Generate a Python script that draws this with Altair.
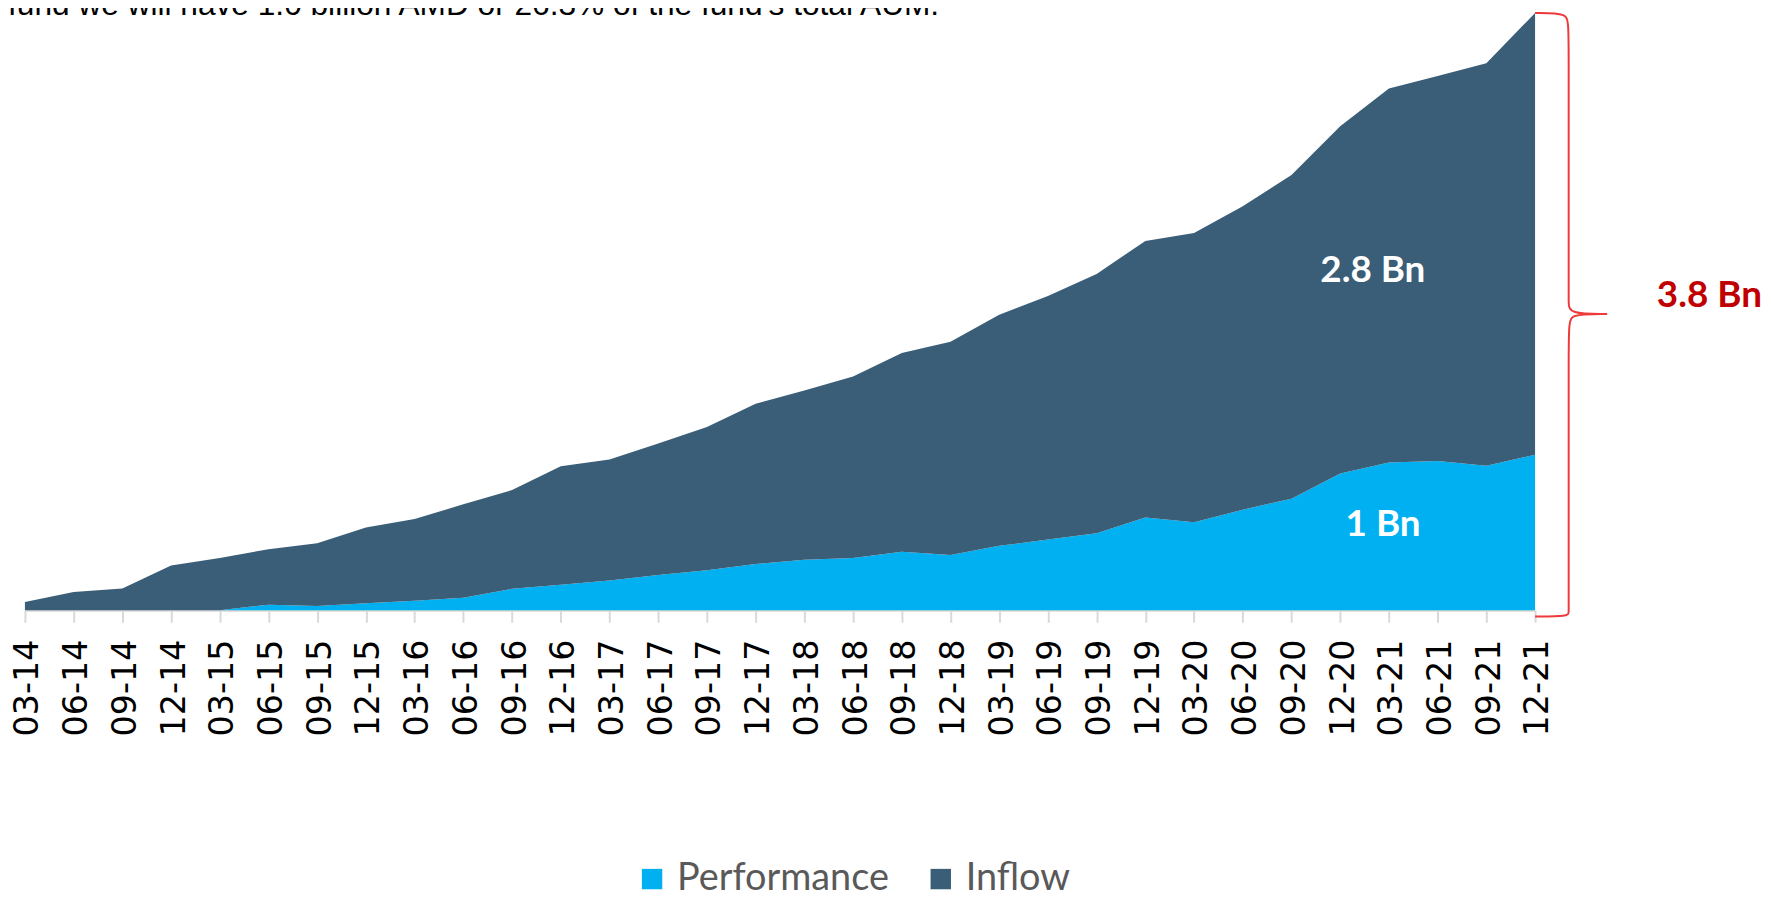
import altair as alt
import pandas as pd

quarters = ["03-14", "06-14", "09-14", "12-14", "03-15", "06-15", "09-15", "12-15",
            "03-16", "06-16", "09-16", "12-16", "03-17", "06-17", "09-17", "12-17",
            "03-18", "06-18", "09-18", "12-18", "03-19", "06-19", "09-19", "12-19",
            "03-20", "06-20", "09-20", "12-20", "03-21", "06-21", "09-21", "12-21"]

# billions AMD
performance = [0.0, 0.0, 0.0, 0.0, 0.0, 0.036, 0.028, 0.044,
               0.061, 0.080, 0.137, 0.163, 0.190, 0.224, 0.254, 0.294,
               0.321, 0.332, 0.372, 0.351, 0.41, 0.45, 0.49, 0.59,
               0.56, 0.64, 0.71, 0.87, 0.94, 0.95, 0.92, 0.99]
inflow = [0.053, 0.117, 0.139, 0.285, 0.332, 0.353, 0.399, 0.482,
          0.520, 0.594, 0.628, 0.754, 0.769, 0.837, 0.912, 1.020,
          1.078, 1.155, 1.265, 1.358, 1.47, 1.55, 1.65, 1.76,
          1.84, 1.93, 2.06, 2.21, 2.38, 2.45, 2.56, 2.81]

series_names = ["Performance", "Inflow"]
series_colors = ["#00B0F0", "#3A5D78"]

caption = "fund we will have 1.0 billion AMD or 26.3% of the fund's total AUM."

# annotation labels (x in quarter index units, y in billions)
inner_labels = ["2.8 Bn", "1 Bn"]
inner_x = [27.67, 27.88]
inner_y = [2.16, 0.54]
total_label = "3.8 Bn"
total_x = 33.5
total_y = 2.0

# curly brace (quarter index units, billions)
brace_x = [31.0, 31.69, 31.69, 31.69, 31.69, 31.69, 32.48, 32.48, 32.48,
           31.69, 31.69, 31.69, 31.69, 31.69, 31.0]
brace_y = [3.80, 3.80, 3.72, 2.10, 1.96, 1.885, 1.885, 1.885, 1.885,
           1.885, 1.81, 0.04, -0.01, -0.04, -0.04]

rows = []
for i, q in enumerate(quarters):
    rows.append({"idx": i, "quarter": q, "series": "Performance", "value": performance[i], "ord": 0})
    rows.append({"idx": i, "quarter": q, "series": "Inflow", "value": inflow[i], "ord": 1})
df = pd.DataFrame(rows)

label_js = "[" + ",".join("'%s'" % q for q in quarters) + "][datum.value]"

x_scale = alt.Scale(domain=[0, len(quarters) - 1], nice=False, zero=False)
y_scale = alt.Scale(domain=[0, 3.8], nice=False, zero=True)
x_axis = alt.Axis(values=list(range(len(quarters))), labelExpr=label_js, title=None,
                  grid=False, labelAngle=270, labelFont="DejaVu Sans", labelFontSize=33.5,
                  labelColor="#000000", labelPadding=17, labelOverlap=False, labelBound=False,
                  labelFlush=False, labelOffset=3,
                  domainColor="#D9D9D9", domainWidth=2, tickColor="#D9D9D9", tickWidth=2,
                  tickSize=12)

area = alt.Chart(df).mark_area(interpolate="linear", opacity=1).encode(
    x=alt.X("idx:Q", scale=x_scale, axis=x_axis),
    y=alt.Y("value:Q", stack="zero", scale=y_scale, axis=None),
    color=alt.Color("series:N", scale=alt.Scale(domain=series_names, range=series_colors),
                    legend=alt.Legend(orient="none", legendX=611, legendY=851, direction="horizontal",
                                      title=None, symbolType="square", symbolSize=420,
                                      symbolStrokeWidth=0, labelFont="Lato", labelFontSize=38,
                                      labelColor="#595959", columnPadding=33, labelOffset=6,
                                      labelLimit=0, padding=0)),
    order=alt.Order("ord:Q"),
)

brace_df = pd.DataFrame({"idx": brace_x, "by": brace_y, "k": list(range(len(brace_x)))})
brace = alt.Chart(brace_df).mark_line(interpolate="basis", color="#EE3A3A", strokeWidth=2).encode(
    x=alt.X("idx:Q", scale=x_scale, axis=x_axis),
    y=alt.Y("by:Q", scale=y_scale, axis=None),
    order="k:Q",
)

inner_df = pd.DataFrame({"t": inner_labels, "idx": inner_x, "ly": inner_y})
inner = alt.Chart(inner_df).mark_text(font="Lato", fontWeight="bold", fontSize=37, color="white",
                                      align="center", baseline="middle").encode(
    x=alt.X("idx:Q", scale=x_scale, axis=x_axis),
    y=alt.Y("ly:Q", scale=y_scale, axis=None),
    text="t:N",
)

total_df = pd.DataFrame({"t": [total_label], "idx": [total_x], "ly": [total_y]})
total = alt.Chart(total_df).mark_text(font="Lato", fontWeight="bold", fontSize=37, color="#C00000",
                                      align="left", baseline="middle").encode(
    x=alt.X("idx:Q", scale=x_scale, axis=x_axis),
    y=alt.Y("ly:Q", scale=y_scale, axis=None),
    text="t:N",
)

cap = alt.Chart(pd.DataFrame({"t": [caption]})).mark_text(
    font="Liberation Sans", fontSize=31.8, color="#000000", align="left", baseline="alphabetic"
).encode(x=alt.value(-17), y=alt.value(2), text="t:N")

chart = alt.layer(area, brace, inner, total, cap).properties(
    width=1517, height=600,
    autosize=alt.AutoSizeParams(type="none"),
    padding={"left": 17, "top": 3, "right": 234, "bottom": 289},
    background="white",
).configure_view(stroke=None)

chart.save("out.html", embed_options={"renderer": "svg", "actions": False})
